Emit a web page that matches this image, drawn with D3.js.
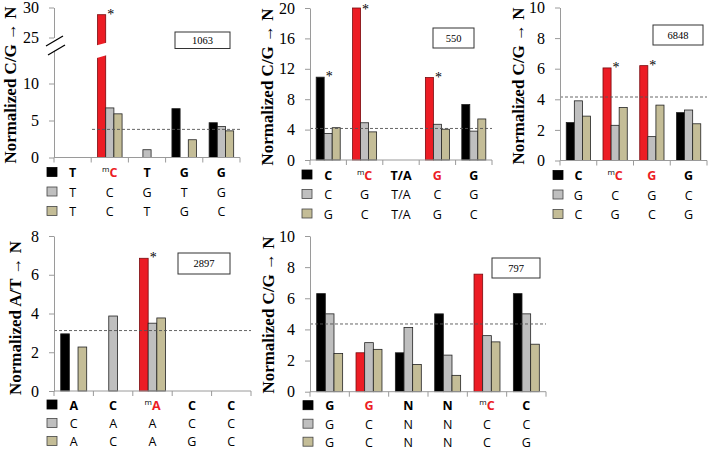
<!DOCTYPE html>
<html><head><meta charset="utf-8">
<script src="https://cdn.jsdelivr.net/npm/d3@7"></script>
<style>body{margin:0;background:#fff} svg{display:block}</style>
</head><body><svg id="c" width="708" height="452"></svg>
<script>
// ---------------- Data ----------------
// Panel 1063
const p1Row1 = ["T","mC","T","G","G"];
const p1Row2 = ["T","C","G","T","G"];
const p1Row3 = ["T","C","T","G","C"];
const p1Black = [0, 28.8, 0, 6.6, 4.7];
const p1Grey  = [0, 6.7, 1.05, 0, 4.2];
const p1Tan   = [0, 5.9, 0, 2.4, 3.6];
const p1Red = [1], p1Star = [1], p1Base = 3.8, p1Id = "1063";
const p1TicksLow = [0, 5, 10], p1TicksHigh = [25, 30];

// Panel 550
const p2Row1 = ["C","mC","T/A","G","G"];
const p2Row2 = ["C","G","T/A","C","G"];
const p2Row3 = ["G","C","T/A","G","C"];
const p2Black = [10.9, 20, 0, 10.85, 7.3];
const p2Grey  = [3.5, 4.9, 0, 4.7, 3.8];
const p2Tan   = [4.25, 3.7, 0, 4.05, 5.4];
const p2Red = [1, 3], p2Star = [0, 1, 3], p2Base = 4.15, p2Id = "550";
const p2Ticks = [0, 4, 8, 12, 16, 20];

// Panel 6848
const p3Row1 = ["C","mC","G","G"];
const p3Row2 = ["G","C","G","C"];
const p3Row3 = ["C","G","C","G"];
const p3Black = [2.48, 6.05, 6.2, 3.13];
const p3Grey  = [3.9, 2.3, 1.56, 3.3];
const p3Tan   = [2.9, 3.46, 3.62, 2.4];
const p3Red = [1, 2], p3Star = [1, 2], p3Base = 4.15, p3Id = "6848";
const p3Ticks = [0, 2, 4, 6, 8, 10];

// Panel 2897
const p4Row1 = ["A","C","mA","C","C"];
const p4Row2 = ["C","A","A","C","C"];
const p4Row3 = ["A","C","A","G","C"];
const p4Black = [2.95, 0, 6.85, 0, 0];
const p4Grey  = [0, 3.87, 3.5, 0, 0];
const p4Tan   = [2.27, 0, 3.77, 0, 0];
const p4Red = [2], p4Star = [2], p4Base = 3.12, p4Id = "2897";
const p4Ticks = [0, 2, 4, 6, 8];

// Panel 797
const p5Row1 = ["G","G","N","N","mC","C"];
const p5Row2 = ["G","C","N","N","C","C"];
const p5Row3 = ["G","C","N","N","C","G"];
const p5Black = [6.3, 2.5, 2.5, 5.0, 7.55, 6.3];
const p5Grey  = [5.0, 3.15, 4.13, 2.35, 3.6, 5.0];
const p5Tan   = [2.45, 2.72, 1.75, 1.05, 3.2, 3.05];
const p5Red = [1, 4], p5Star = [], p5Base = 4.35, p5Id = "797";
const p5Ticks = [0, 2, 4, 6, 8, 10];

const titleCG = "Normalized C/G \u2192 N";
const titleAT = "Normalized A/T \u2192 N";

// ---------------- Style ----------------
const RED = "#ec1c24", GREY = "#bfbfbf", TAN = "#c4bd97";
const AXIS = "#9a9a9a";
const SERIF = "'Liberation Serif','Times New Roman',serif";
const SANS = "'Open Sans','Noto Sans',sans-serif";

const svg = d3.select("#c");

function panel(o) {
  const g = svg.append("g");
  const n = o.rows[0].length;
  const x0 = d3.scaleBand().domain(d3.range(n)).range(o.xr).paddingInner(0.34).paddingOuter(0.17);
  const x1 = d3.scaleBand().domain([0, 1, 2]).range([0, x0.bandwidth()]);
  const y = o.y;
  const y0 = y(0);
  const half = x0.step() * x0.paddingInner() / 2;

  // bars
  const cols = [o.black, o.grey, o.tan];
  const bars = [];
  cols.forEach((vals, j) => vals.forEach((v, i) => { if (v > 0) bars.push({v, i, j}); }));
  g.selectAll("rect.bar").data(bars).join("rect").attr("class", "bar")
    .attr("x", d => x0(d.i) + x1(d.j))
    .attr("y", d => y(d.v))
    .attr("width", x1.bandwidth())
    .attr("height", d => y0 - y(d.v))
    .attr("fill", d => d.j === 0 ? (o.red.includes(d.i) ? RED : "#000") : (d.j === 1 ? GREY : TAN))
    .attr("stroke", d => (d.j === 0 && o.red.includes(d.i)) ? "#7a0a0e" : "#222")
    .attr("stroke-width", 0.8);

  // break on tall bar
  if (o.breakBar !== undefined) {
    const bx = x0(o.breakBar) + x1(0), bw = x1.bandwidth();
    g.append("polygon")
      .attr("points", [[bx - 1.5, 45.5], [bx + bw + 1.5, 42.5], [bx + bw + 1.5, 55], [bx - 1.5, 58.3]].map(p => p.join(",")).join(" "))
      .attr("fill", "#fff");
  }

  // dashed reference line
  g.append("line")
    .attr("x1", o.dashFrom !== undefined ? o.dashFrom : o.xr[0]).attr("x2", o.xr[1])
    .attr("y1", y(o.base)).attr("y2", y(o.base))
    .attr("stroke", "#555").attr("stroke-width", 0.9).attr("stroke-dasharray", "3,2");

  // x axis line and boundary ticks
  g.append("line").attr("x1", o.xr[0]).attr("x2", o.xr[1]).attr("y1", y0).attr("y2", y0)
    .attr("stroke", AXIS).attr("stroke-width", 1);
  const bounds = d3.range(n).map(i => x0(i) - half).concat([x0(n - 1) + x0.bandwidth() + half]);
  g.selectAll("line.xt").data(bounds).join("line").attr("class", "xt")
    .attr("x1", d => d).attr("x2", d => d).attr("y1", y0).attr("y2", y0 + 5)
    .attr("stroke", AXIS).attr("stroke-width", 1);

  // y axes
  o.yAxes.forEach(a => {
    const ax = g.append("g").attr("transform", `translate(${o.xr[0]},0)`)
      .call(d3.axisLeft(a.scale).tickValues(a.ticks).tickFormat(d3.format("d"))
        .tickSize(5).tickSizeOuter(0).tickPadding(10));
    ax.select(".domain").attr("stroke", AXIS);
    ax.selectAll(".tick line").attr("stroke", AXIS);
    ax.selectAll(".tick text").attr("font-family", SERIF).attr("font-size", 16).attr("fill", "#000");
  });

  // y title
  g.append("text")
    .attr("transform", `translate(${o.tx},${o.ty}) rotate(-90)`)
    .attr("text-anchor", "middle").attr("dominant-baseline", "central")
    .attr("font-family", SERIF).attr("font-weight", "bold").attr("font-size", 17)
    .text(o.title);

  // asterisks
  g.selectAll("text.star").data(o.star).join("text").attr("class", "star")
    .attr("x", i => x0(i) + x1(0) + x1.bandwidth() + 5)
    .attr("y", i => Math.max(y(cols[0][i]) + 4, 14))
    .attr("text-anchor", "middle").attr("font-family", SERIF).attr("font-size", 14)
    .text("*");

  // id box
  g.append("rect").attr("x", o.box[0]).attr("y", o.box[1]).attr("width", o.box[2]).attr("height", o.box[3])
    .attr("fill", "#fff").attr("stroke", "#333").attr("stroke-width", 1);
  g.append("text").attr("x", o.box[0] + o.box[2] / 2).attr("y", o.box[1] + o.box[3] / 2)
    .attr("text-anchor", "middle").attr("dominant-baseline", "central")
    .attr("font-family", SERIF).attr("font-size", 10.5).text(o.id);

  // label rows with legend squares
  const rowFills = ["#000", GREY, TAN];
  const rowY = o.rowOff.map(d => y0 + d);
  o.rows.forEach((row, r) => {
    g.append("rect").attr("x", o.sqX).attr("y", rowY[r] - 5).attr("width", 10).attr("height", 9)
      .attr("fill", rowFills[r]).attr("stroke", r === 0 ? "#000" : "#444").attr("stroke-width", 0.8);
    row.forEach((lab, i) => {
      const t = g.append("text").attr("x", x0(i) + x0.bandwidth() / 2).attr("y", rowY[r] + 4.5)
        .attr("text-anchor", "middle").attr("font-family", SANS).attr("font-size", 12.5)
        .attr("font-weight", r === 0 ? "bold" : "normal");
      const isRed = r === 0 && o.red.includes(i);
      if (r === 0 && lab.length === 2 && lab[0] === "m") {
        t.append("tspan").attr("font-size", 8).attr("font-weight", "normal").attr("dy", -5).attr("fill", "#000").text("m");
        t.append("tspan").attr("dy", 5).attr("fill", RED).text(lab[1]);
      } else {
        t.attr("fill", isRed ? RED : "#000").text(lab);
      }
    });
  });
}

const topRows = [15, 34.5, 54];
const botRows = [14, 32.5, 50.5];

// Panel 1 (broken axis)
const p1Low = d3.scaleLinear().domain([0, 14.5]).range([157.5, 50.2]);
const p1High = d3.scaleLinear().domain([25, 30]).range([37.5, 7.5]);
const p1Y = v => v >= 25 ? p1High(v) : p1Low(v);
panel({
  rows: [p1Row1, p1Row2, p1Row3], black: p1Black, grey: p1Grey, tan: p1Tan,
  red: p1Red, star: p1Star, base: p1Base, id: p1Id, title: titleCG,
  xr: [54, 240], y: p1Y, yAxes: [{scale: p1Low, ticks: p1TicksLow}, {scale: p1High, ticks: p1TicksHigh}],
  tx: 10, ty: 85, sqX: 47, box: [175, 32, 55, 16.5], breakBar: 1, dashFrom: 92, rowOff: topRows
});
// break marks on axis
svg.append("line").attr("x1", 46).attr("y1", 46).attr("x2", 63).attr("y2", 36).attr("stroke", "#000").attr("stroke-width", 1.3);
svg.append("line").attr("x1", 48).attr("y1", 55).attr("x2", 65).attr("y2", 45).attr("stroke", "#000").attr("stroke-width", 1.3);

// Panel 2
const p2Y = d3.scaleLinear().domain([0, 20]).range([160, 8]);
panel({
  rows: [p2Row1, p2Row2, p2Row3], black: p2Black, grey: p2Grey, tan: p2Tan,
  red: p2Red, star: p2Star, base: p2Base, id: p2Id, title: titleCG,
  xr: [310, 492], y: p2Y, yAxes: [{scale: p2Y, ticks: p2Ticks}],
  tx: 267, ty: 87, sqX: 302, box: [433, 28, 41, 20], rowOff: topRows
});

// Panel 3
const p3Y = d3.scaleLinear().domain([0, 10]).range([160.5, 7.5]);
panel({
  rows: [p3Row1, p3Row2, p3Row3], black: p3Black, grey: p3Grey, tan: p3Tan,
  red: p3Red, star: p3Star, base: p3Base, id: p3Id, title: titleCG,
  xr: [560, 707], y: p3Y, yAxes: [{scale: p3Y, ticks: p3Ticks}],
  tx: 518, ty: 86, sqX: 553, box: [653, 25, 50, 20], rowOff: topRows
});

// Panel 4
const p4Y = d3.scaleLinear().domain([0, 8]).range([391, 236]);
panel({
  rows: [p4Row1, p4Row2, p4Row3], black: p4Black, grey: p4Grey, tan: p4Tan,
  red: p4Red, star: p4Star, base: p4Base, id: p4Id, title: titleAT,
  xr: [54, 251], y: p4Y, yAxes: [{scale: p4Y, ticks: p4Ticks}],
  tx: 15, ty: 318, sqX: 47, box: [178, 253, 52, 21], rowOff: botRows
});

// Panel 5
const p5Y = d3.scaleLinear().domain([0, 10]).range([391.7, 236]);
panel({
  rows: [p5Row1, p5Row2, p5Row3], black: p5Black, grey: p5Grey, tan: p5Tan,
  red: p5Red, star: p5Star, base: p5Base, id: p5Id, title: titleCG,
  xr: [310, 546], y: p5Y, yAxes: [{scale: p5Y, ticks: p5Ticks}],
  tx: 268, ty: 315, sqX: 303, box: [492, 258, 48, 20], rowOff: botRows
});
</script>
</body></html>
